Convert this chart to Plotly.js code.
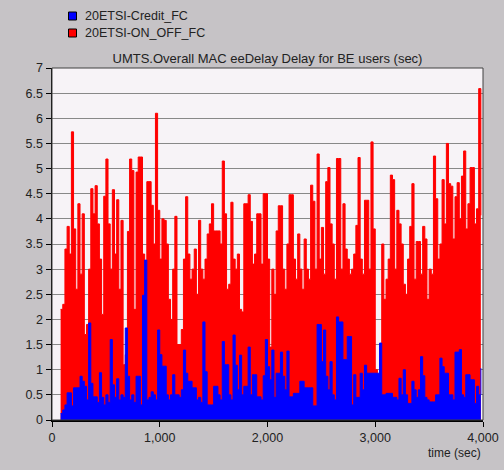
<!DOCTYPE html>
<html>
<head>
<meta charset="utf-8">
<script src="https://cdn.plot.ly/plotly-3.0.1.min.js"></script>
<style>
html,body{margin:0;padding:0;background:#c6c3c6;}
#chart{width:504px;height:470px;}
</style>
</head>
<body>
<div id="chart"></div>
<script>
// sample times: first sample and fixed sampling interval (sec)
const timeStart = 80;
const timeStep = 20;

const seriesNames = ["20ETSI-Credit_FC", "20ETSI-ON_OFF_FC"];
const seriesColors = ["#0000ff", "#ff0000"];

// 20ETSI-ON_OFF_FC delay (sec)
const onOffDelay = [
  2.2,
  2.3, 3.4, 3.85, 3.3, 5.73,
  3.8, 2.6, 4.3, 2.9, 4.1,
  1.7, 1.9, 3.0, 4.6, 4.1,
  4.66, 3.9, 3.2, 2.1, 4.45,
  5.19, 3.9, 3.0, 4.58, 3.3,
  4.38, 2.6, 3.97, 1.1, 1.3,
  3.75, 5.19, 4.96, 2.2, 4.93,
  5.23, 5.23, 3.3, 2.8, 4.74,
  4.74, 4.27, 3.5, 6.1, 4.17,
  3.2, 4.0, 3.97, 3.5, 2.4,
  2.0, 3.0, 4.05, 1.5, 1.5,
  1.8, 3.2, 4.44, 3.3, 2.8,
  3.0, 3.4, 2.5, 3.97, 3.0,
  2.8, 3.2, 3.7, 3.9, 4.3,
  3.76, 3.76, 3.76, 3.5, 5.15,
  4.1, 2.6, 2.7, 4.33, 3.2,
  3.0, 3.3, 2.2, 2.15, 4.3,
  4.3, 4.48, 3.95, 3.1, 3.3,
  4.1, 4.1, 3.1, 4.5, 4.5,
  3.2, 1.45, 3.0, 2.5, 3.76,
  4.26, 4.26, 3.0, 2.6, 3.5,
  4.48, 4.48, 3.2, 2.8, 3.7,
  3.0, 2.6, 3.6, 3.0, 2.8,
  4.67, 4.35, 3.0, 5.29, 3.2,
  3.83, 2.9, 4.74, 5.02, 3.9,
  3.5, 2.8, 5.2, 5.2, 3.0,
  4.3, 3.4, 3.2, 2.9, 3.0,
  3.3, 3.87, 5.22, 3.2, 2.9,
  4.37, 4.37, 3.0, 5.53, 3.8,
  1.0, 0.9, 1.2, 3.5, 2.4,
  2.8, 3.2, 4.87, 4.78, 3.0,
  4.17, 3.9, 3.5, 2.7, 2.5,
  3.2, 3.85, 4.7, 2.8, 3.55,
  3.55, 2.9, 3.85, 3.6, 2.4,
  3.0, 2.9, 5.25, 4.4, 3.2,
  3.5, 4.78, 3.9, 5.5, 4.7,
  4.65, 3.6, 4.44, 4.72, 4.0,
  4.85, 5.35, 3.8, 4.3, 5.02,
  5.02, 3.9, 4.2, 6.59, 4.07
];

// 20ETSI-Credit_FC delay (sec)
const creditDelay = [
  0.13,
  0.2, 0.3, 0.54, 0.54, 0.28,
  0.64, 0.64, 0.64, 0.87, 0.77,
  0.67, 0.4, 1.93, 0.73, 0.46,
  0.46, 0.35, 0.94, 0.45, 0.3,
  0.5, 0.35, 1.6, 0.7, 0.45,
  0.82, 0.4, 0.5, 0.45, 1.83,
  0.87, 0.4, 0.5, 0.35, 0.87,
  0.87, 0.3, 2.48, 3.18, 0.4,
  0.45, 0.56, 0.5, 0.4, 1.79,
  1.3, 1.07, 1.07, 0.5, 0.4,
  0.5, 0.9, 0.5, 0.5, 0.45,
  0.6, 1.39, 0.93, 0.77, 0.77,
  0.64, 0.64, 0.4, 0.45, 0.35,
  1.95, 0.96, 0.3, 0.3, 0.3,
  0.67, 0.67, 0.5, 0.4, 1.56,
  1.1, 1.1, 0.5, 0.4, 1.69,
  1.09, 0.6, 1.29, 0.5, 0.67,
  0.67, 1.45, 0.5, 0.9, 0.9,
  0.46, 0.46, 0.4, 0.88, 1.6,
  1.06, 0.8, 1.39, 0.45, 0.93,
  0.93, 1.35, 0.87, 0.6, 1.37,
  0.46, 0.46, 0.53, 0.53, 0.53,
  0.77, 0.77, 0.64, 0.64, 0.64,
  0.64, 0.28, 0.28, 1.9, 1.9,
  1.16, 1.79, 0.87, 0.6, 1.16,
  0.5, 0.4, 2.05, 1.95, 1.95,
  1.2, 1.2, 1.66, 1.66, 0.3,
  0.9, 0.45, 0.45, 0.93, 0.6,
  1.09, 0.93, 0.93, 0.93, 0.93,
  0.93, 0.93, 1.53, 0.5, 0.5,
  0.53, 0.53, 0.53, 0.45, 0.45,
  0.4, 0.83, 0.5, 1.0, 0.5,
  0.33, 0.33, 0.77, 0.6, 0.45,
  0.6, 1.26, 0.88, 0.45, 0.4,
  0.36, 0.36, 0.36, 0.5, 0.5,
  1.23, 1.06, 0.93, 0.93, 0.5,
  0.5, 0.4, 1.35, 1.35, 1.4,
  0.5, 0.45, 0.9, 0.9, 0.8,
  0.8, 0.33, 0.67, 0.5, 1.03
];

const yTicks = [0, 0.5, 1, 1.5, 2, 2.5, 3, 3.5, 4, 4.5, 5, 5.5, 6, 6.5, 7];
const yTickText = ["0", "0.5", "1", "1.5", "2", "2.5", "3", "3.5", "4", "4.5", "5", "5.5", "6", "6.5", "7"];
const xTicks = [0, 1000, 2000, 3000, 4000];
const xTickText = ["0", "1,000", "2,000", "3,000", "4,000"];

const times = onOffDelay.map((_, i) => timeStart + i * timeStep);

const FONT = "Liberation Sans, Arial, sans-serif";
const TXT = "#222";

// plot-area pixel frame (used only to place the legend in paper units)
const W = 504, H = 470, ML = 52, MR = 21, MT = 68, MB = 50;
const PW = W - ML - MR, PH = H - MT - MB;
const px = v => (v - ML) / PW;
const py = v => (H - MB - v) / PH;

const traces = [
  {
    x: times, y: onOffDelay, type: "scatter", mode: "lines",
    line: {shape: "hv", color: seriesColors[1], width: 1},
    fill: "tozeroy", fillcolor: seriesColors[1],
    showlegend: false, hoverinfo: "skip", name: seriesNames[1]
  },
  {
    x: times, y: creditDelay, type: "scatter", mode: "lines",
    line: {shape: "hv", color: seriesColors[0], width: 1},
    fill: "tozeroy", fillcolor: seriesColors[0],
    showlegend: false, hoverinfo: "skip", name: seriesNames[0]
  }
];

const legendRowsY = [16, 33];
const shapes = [
  {type: "rect", xref: "paper", yref: "paper", x0: 0, x1: 1, y0: 0, y1: 1,
   line: {color: "#404040", width: 1}, fillcolor: "rgba(0,0,0,0)", layer: "above"}
];
const annotations = [
  {text: "time (sec)", xref: "paper", yref: "paper", x: 1, xanchor: "right",
   y: py(453), yanchor: "middle", showarrow: false,
   font: {family: FONT, size: 12, color: TXT}}
];
seriesNames.forEach((name, i) => {
  const cy = legendRowsY[i];
  shapes.push({type: "rect", xref: "paper", yref: "paper",
    x0: px(68.5), x1: px(76.5), y0: py(cy + 4), y1: py(cy - 4),
    fillcolor: seriesColors[i], line: {color: "#000", width: 1}});
  annotations.push({text: name, xref: "paper", yref: "paper",
    x: px(83), xanchor: "left", y: py(cy), yanchor: "middle", showarrow: false,
    font: {family: FONT, size: 12.5, color: TXT}});
});

const layout = {
  width: W, height: H,
  margin: {l: ML, r: MR, t: MT, b: MB},
  paper_bgcolor: "#c6c3c6",
  plot_bgcolor: "#f7f3f7",
  font: {family: FONT, size: 12.5, color: TXT},
  showlegend: false,
  title: {
    text: "UMTS.Overall MAC eeDelay Delay for BE users (sec)",
    font: {family: FONT, size: 13, color: TXT},
    x: 0.5, xref: "paper", xanchor: "center",
    y: 1 - 58 / H, yref: "container", yanchor: "middle"
  },
  xaxis: {
    range: [0, 4000], tickvals: xTicks, ticktext: xTickText,
    showgrid: false, zeroline: false,
    showline: true, linecolor: "#000", linewidth: 1.5,
    ticks: "outside", ticklen: 5, tickcolor: "#000", tickwidth: 1,
    tickfont: {family: FONT, size: 12.5, color: TXT},
    fixedrange: true
  },
  yaxis: {
    range: [0, 7], tickvals: yTicks, ticktext: yTickText,
    showgrid: true, gridcolor: "#888888", gridwidth: 1,
    zeroline: false,
    showline: true, linecolor: "#000", linewidth: 1.5,
    ticks: "outside", ticklen: 5, tickcolor: "#000", tickwidth: 1,
    tickfont: {family: FONT, size: 12.5, color: TXT},
    fixedrange: true
  },
  shapes: shapes,
  annotations: annotations
};

Plotly.newPlot("chart", traces, layout, {displayModeBar: false, staticPlot: true});
</script>
</body>
</html>
